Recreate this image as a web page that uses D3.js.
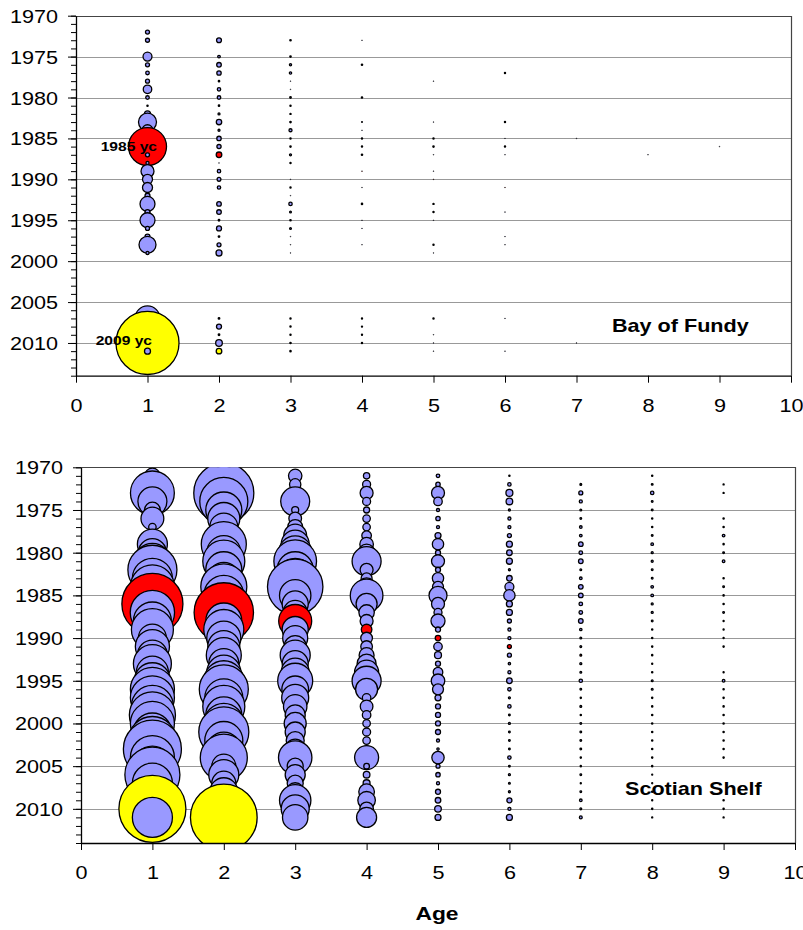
<!DOCTYPE html>
<html>
<head>
<meta charset="utf-8">
<script src="https://cdn.jsdelivr.net/npm/d3@7"></script>
<style>
  body { margin: 0; background: #fff; }
  svg { display: block; }
  text { font-family: Arial, "Liberation Sans", sans-serif; fill: #000; }
</style>
</head>
<body>
<svg id="chart" width="803" height="930"></svg>
<script>
// Survey years (rows) and ages (columns)
const years = [1970, 1971, 1972, 1973, 1974, 1975, 1976, 1977, 1978, 1979,
               1980, 1981, 1982, 1983, 1984, 1985, 1986, 1987, 1988, 1989,
               1990, 1991, 1992, 1993, 1994, 1995, 1996, 1997, 1998, 1999,
               2000, 2001, 2002, 2003, 2004, 2005, 2006, 2007, 2008, 2009,
               2010, 2011];
const ages = [1, 2, 3, 4, 5, 6, 7, 8, 9];
const yearTicks = [1970, 1975, 1980, 1985, 1990, 1995, 2000, 2005, 2010];
const ageTicks = [0, 1, 2, 3, 4, 5, 6, 7, 8, 9, 10];

// Strong year classes, coloured along their diagonal
const yearClassRed = 1985;
const yearClassYellow = 2009;

// Bay of Fundy: abundance index by age, one value per survey year 1970-2011
const fundyAge1 = [
  null, null, 4, 4, null, 20, 4, 3.2, 4, 18,
  3.2, 0.4, 9, 81, 30, 20, 361, 4, 2.3, 42,
  25, 25, 6, 56, 6, 56, 4, 6, 72, 2.3,
  null, null, null, null, null, null, null, 156, 20, 20,
  992, 9];
const fundyAge2 = [
  null, null, null, 6, null, 1.7, 5.3, 4.8, 0.5, 2.9,
  3.2, 0.5, 1, 7.3, 1, 4.8, 4.4, 7.8, 0.1, 2.9,
  3.6, 2.9, null, 5.3, 5.3, 0.6, 6.3, 0.6, 4, 9,
  null, null, null, null, null, null, null, 0.6, 6.3, 0.6,
  11, 7.8];
const fundyAge3 = [
  null, null, null, 0.5, null, 0.5, 1.2, 1.4, 0.1, 0.1,
  0.6, 0.35, 0.35, 0.5, 2.3, 0.35, 0.45, 1, 0.35, null,
  0.1, 0.35, 0.1, 2.9, 0.8, 0.45, 0.8, 0.1, 0.1, 0.1,
  null, null, null, null, null, null, null, 0.35, 0.35, 0.35,
  0.45, 0.45];
const fundyAge4 = [
  null, null, null, 0.1, null, null, 0.45, null, null, null,
  0.45, null, null, 0.2, 0.1, 0.35, 0.35, 0.45, null, 0.1,
  null, 0.1, null, 0.45, null, 0.1, 0.1, null, 0.1, null,
  null, null, null, null, null, null, null, 0.3, 0.3, 0.3,
  0.35, null];
const fundyAge5 = [
  null, null, null, null, null, null, null, null, 0.1, null,
  null, null, null, 0.1, null, 0.35, 0.45, 0.1, null, 0.1,
  0.1, null, null, 0.35, 0.35, 0.1, null, null, 0.35, 0.1,
  null, null, null, null, null, null, null, 0.35, null, 0.1,
  0.1, 0.1];
const fundyAge6 = [
  null, null, null, null, null, null, null, 0.35, null, null,
  null, null, null, 0.35, null, 0.1, 0.35, 0.1, null, null,
  null, 0.1, null, null, 0.1, null, null, 0.1, 0.1, null,
  null, null, null, null, null, null, null, 0.1, null, null,
  null, 0.1];
const fundyAge7 = [
  null, null, null, null, null, null, null, null, null, null,
  null, null, null, null, null, 0.1, null, null, null, null,
  null, null, null, null, null, null, null, null, null, null,
  null, null, null, null, null, null, null, null, null, null,
  0.1, null];
const fundyAge8 = [
  null, null, null, null, null, null, null, null, null, null,
  null, null, null, null, null, null, null, 0.1, null, null,
  null, null, null, null, null, null, null, null, null, null,
  null, null, null, null, null, null, null, null, null, null,
  null, null];
const fundyAge9 = [
  null, null, null, null, null, null, null, null, null, null,
  null, null, null, null, null, null, 0.1, null, null, null,
  null, null, null, null, null, null, null, null, null, null,
  null, null, null, null, null, null, null, null, null, null,
  null, null];

// Scotian Shelf: abundance index by age, one value per survey year 1970-2011
const shelfAge1 = [
  null, 60, 30, 480, 210, 62, 130, 14, 8, 225,
  196, 320, 600, 400, 480, 400, 930, 490, 360, 440,
  196, 290, 225, 360, 256, 324, 484, 484, 440, 530,
  484, 360, 576, 840, 484, 400, 756, 400, 225, 324,
  1120, 400];
const shelfAge2 = [
  null, 100, 144, 900, 576, 324, 256, 196, 144, 506,
  289, 441, 324, 256, 529, 400, 324, 880, 324, 400,
  289, 256, 306, 225, 289, 400, 600, 361, 441, 324,
  400, 625, 361, 289, 552, 144, 225, 144, 196, 169,
  225, 1110];
const shelfAge3 = [
  null, 45, 32, 16, 210, 12, 40, 56, 130, 196,
  280, 454, 324, 400, 767, 246, 169, 144, 272, 169,
  156, 121, 225, 169, 196, 306, 177, 182, 137, 100,
  121, 100, 81, 100, 279, 64, 100, 64, 81, 246,
  196, 161];
const shelfAge4 = [
  null, 10, 16, 42, 16, 9, 14, 14, 23, 46,
  72, 210, 42, 30, 81, 266, 110, 59, 42, 28,
  34, 34, 56, 90, 144, 210, 121, 18, 40, 18,
  14, 16, 14, 9, 144, 8, 11, 12, 61, 77,
  46, 100];
const shelfAge5 = [
  null, 3.2, 4.8, 42, 18, 2.3, 4.8, 2.3, 9, 32,
  6.3, 42, 6.3, 32, 30, 81, 42, 16, 49, 6.3,
  7.8, 18, 12, 6.3, 23, 46, 30, 9, 6.3, 6.3,
  6.3, 6.3, 2.3, 1.4, 38, 4, 4.8, 2.3, 6.3, 7.8,
  11, 9];
const shelfAge6 = [
  null, 0.4, 2.9, 12, 11, 1, 2.3, 2.3, 4, 9,
  7.8, 9, 1, 7.8, 20, 32, 9, 9, 4, 2.3,
  2.3, 4, 4, 1.4, 2.3, 7.8, 2.9, 1, 2.9, 0.7,
  1, 0.7, 0.7, 0.7, 2.9, 0.7, 1, 0.8, 1, 6.3,
  2.3, 9];
const shelfAge7 = [
  null, null, 0.8, 4, 2.3, 0.8, 0.7, 1.7, 1.7, 5.3,
  3.2, 5.3, 0.8, 1.7, 5.3, 5.3, 3.2, 3.2, 5.3, 1.4,
  0.8, 0.8, 0.8, 1, 0.8, 2.9, 0.7, 0.4, 0.8, 0.4,
  0.7, 0.7, 0.7, 0.7, 0.4, 0.4, 0.7, 0.3, 0.7, 1.7,
  0.8, 2];
const shelfAge8 = [
  null, 0.4, 0.7, 2.9, 0.7, 0.7, 0.4, 0.4, 0.7, 1.7,
  1, 1, 0.7, 0.7, 1.7, 1.7, 1, 1, 0.7, 0.4,
  0.4, 0.4, 0.4, 0.3, 0.4, 0.8, 0.8, 0.4, 0.4, 0.4,
  0.4, 0.4, 0.4, 0.4, 0.4, 0.4, 0.25, 0.25, 0.4, 0.3,
  0.4, 0.3];
const shelfAge9 = [
  null, null, 0.3, 0.3, null, null, 0.4, 0.4, 1.7, 0.4,
  0.7, 1.7, null, 0.4, 0.7, 0.4, 0.4, 0.7, 0.3, 0.3,
  0.3, 0.4, null, null, 0.3, 1.7, 0.4, 0.4, 0.4, 0.4,
  0.4, 0.4, 0.4, 0.4, 0.4, null, null, null, null, 0.4,
  0.4, 0.3];

const fundySeries = [fundyAge1, fundyAge2, fundyAge3, fundyAge4, fundyAge5,
                     fundyAge6, fundyAge7, fundyAge8, fundyAge9];
const shelfSeries = [shelfAge1, shelfAge2, shelfAge3, shelfAge4, shelfAge5,
                     shelfAge6, shelfAge7, shelfAge8, shelfAge9];

// Year-class annotations on the Bay of Fundy panel
const fundyLabels = [
  { text: "1985 yc", age: 1, yearClass: 1985 },
  { text: "2009 yc", age: 1, yearClass: 2009 }
];

// ---------------------------------------------------------------------------
const svg = d3.select("#chart");
const STRETCH = 1.2; // horizontal text stretch
const radius = d3.scaleSqrt().domain([0, 1120]).range([0, 33.5]);

const colour = d => {
  const yc = d.year - d.age;
  if (yc === yearClassRed) return "#FF0000";
  if (yc === yearClassYellow) return "#FFFF00";
  return "#9999FF";
};

const panels = [
  { title: "Bay of Fundy", series: fundySeries, labels: fundyLabels,
    left: 76, right: 791, top: 15.7, bottom: 375.7, titleX: 612, titleY: 332 },
  { title: "Scotian Shelf", series: shelfSeries, labels: [],
    left: 81, right: 795, top: 467.3, bottom: 843, titleX: 625, titleY: 795 }
];
const labelNudge = { "1985 yc": [9.5, 4.7], "2009 yc": [4.5, 2.5] };

panels.forEach((p, i) => {
  const x = d3.scaleLinear().domain([0, 10]).range([p.left, p.right]);
  const y = d3.scaleLinear().domain([1970, 2014]).range([p.top, p.bottom]);
  const g = svg.append("g");

  // horizontal gridlines
  g.append("g").selectAll("line")
    .data(yearTicks.filter(t => t > 1970))
    .join("line")
    .attr("x1", p.left).attr("x2", p.right)
    .attr("y1", d => Math.round(y(d)) + 0.5).attr("y2", d => Math.round(y(d)) + 0.5)
    .attr("stroke", "#999").attr("stroke-width", 1);

  // plot-area frame (top and right)
  g.append("path")
    .attr("d", `M${p.left},${Math.round(p.top) + 0.5}H${Math.round(p.right) + 0.5}V${p.bottom}`)
    .attr("fill", "none").attr("stroke", "#444").attr("stroke-width", 1.2);

  // bubbles
  const clipId = "plot-clip-" + i;
  svg.append("clipPath").attr("id", clipId)
    .append("rect")
    .attr("x", p.left).attr("y", p.top)
    .attr("width", p.right - p.left).attr("height", p.bottom - p.top);

  const points = [];
  p.series.forEach((vals, ai) => {
    vals.forEach((v, yi) => {
      if (v != null) points.push({ age: ages[ai], year: years[yi], value: v });
    });
  });

  g.append("g").attr("clip-path", `url(#${clipId})`)
    .selectAll("circle")
    .data(points)
    .join("circle")
    .attr("cx", d => x(d.age))
    .attr("cy", d => y(d.year))
    .attr("r", d => radius(d.value))
    .attr("fill", colour)
    .attr("stroke", "#000")
    .attr("stroke-width", d => Math.min(1.3, 2.6 * radius(d.value)));

  // year-class labels
  p.labels.forEach(l => {
    const yr = l.yearClass + l.age;
    const [dx, dy] = labelNudge[l.text];
    g.append("text")
      .attr("transform", `translate(${x(l.age) + dx},${y(yr) + dy}) scale(${STRETCH},1)`)
      .attr("text-anchor", "end")
      .attr("font-size", 13).attr("font-weight", "bold")
      .text(l.text);
  });

  // y axis: major ticks with labels, minor tick every year
  const minorTicks = d3.range(1970, 2015);
  g.append("g")
    .attr("transform", `translate(${p.left},0)`)
    .call(d3.axisLeft(y).tickValues(minorTicks).tickSize(5).tickSizeOuter(0).tickFormat(""))
    .call(a => a.select(".domain").remove())
    .call(a => a.selectAll("line").attr("stroke", "#000"));
  const yAxis = g.append("g")
    .attr("transform", `translate(${p.left},0)`)
    .call(d3.axisLeft(y).tickValues(yearTicks).tickSize(8).tickSizeOuter(0).tickFormat(d3.format("d")));
  yAxis.select(".domain").attr("stroke", "#000").attr("stroke-width", 1.3);
  yAxis.selectAll("line").attr("stroke", "#000");
  yAxis.selectAll("text")
    .attr("x", -18 / STRETCH).attr("dy", "0.36em")
    .attr("transform", `scale(${STRETCH},1)`)
    .attr("font-size", 18).attr("fill", "#000");
  yAxis.attr("font-size", null).attr("font-family", null);

  // x axis
  const xAxis = g.append("g")
    .attr("transform", `translate(0,${p.bottom})`)
    .call(d3.axisBottom(x).tickValues(ageTicks).tickSize(7).tickSizeOuter(0).tickFormat(d3.format("d")));
  xAxis.select(".domain").attr("stroke", "#000").attr("stroke-width", 1.3);
  xAxis.selectAll("line").attr("stroke", "#000");
  xAxis.selectAll("text")
    .attr("y", 30).attr("dy", "0.36em")
    .attr("transform", `scale(${STRETCH},1)`)
    .attr("font-size", 18).attr("fill", "#000");
  xAxis.attr("font-size", null).attr("font-family", null);

  // panel title
  g.append("text")
    .attr("transform", `translate(${p.titleX},${p.titleY}) scale(${STRETCH},1)`)
    .attr("font-size", 18).attr("font-weight", "bold")
    .text(p.title);
});

// shared x-axis title
svg.append("text")
  .attr("transform", `translate(437,920) scale(${STRETCH},1)`)
  .attr("text-anchor", "middle")
  .attr("font-size", 19).attr("font-weight", "bold")
  .text("Age");
</script>
</body>
</html>
